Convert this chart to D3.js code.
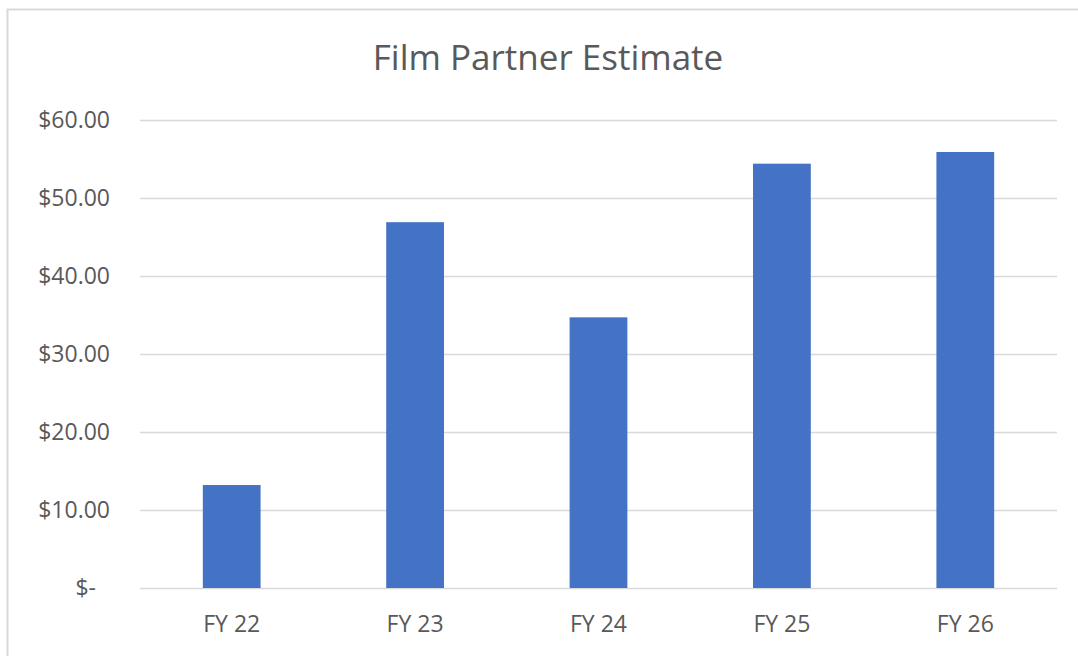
<!DOCTYPE html>
<html>
<head>
<meta charset="utf-8">
<script src="https://cdn.jsdelivr.net/npm/d3@7"></script>
<style>
  body { margin: 0; background: #fff; }
  text { font-family: "Open Sans", "Noto Sans", sans-serif; fill: #595959; }
</style>
</head>
<body>
<div id="chart"></div>
<script>
'use strict';

var categories = ['FY 22', 'FY 23', 'FY 24', 'FY 25', 'FY 26'];
var values = [13.2, 46.9, 34.7, 54.4, 55.9];
var tickValues = [0, 10, 20, 30, 40, 50, 60];

var width = 1078;
var height = 656;
var margin = {top: 120, right: 21, bottom: 68, left: 140};

var svg = d3.select('#chart').append('svg')
    .attr('width', width)
    .attr('height', height);

// outer chart frame (only top and left edges show)
svg.append('rect')
    .attr('x', 7.5).attr('y', 9.5)
    .attr('width', width + 10).attr('height', height + 10)
    .style('fill', 'none')
    .style('stroke', '#d9d9d9')
    .style('stroke-width', 2);

var x = d3.scaleBand()
    .domain(categories)
    .range([margin.left, width - margin.right])
    .paddingInner(0.685)
    .paddingOuter(0.3425);

var y = d3.scaleLinear()
    .domain([0, 60])
    .range([height - margin.bottom, margin.top]);

svg.append('text')
    .attr('x', 548)
    .attr('y', 70)
    .attr('text-anchor', 'middle')
    .style('font-size', '35px')
    .text('Film Partner Estimate');

var yAxis = d3.axisLeft(y)
    .tickValues(tickValues)
    .tickSize(-(width - margin.left - margin.right))
    .tickPadding(30)
    .tickFormat(function(d) { return d === 0 ? '$-' : '$' + d.toFixed(2); });

var gy = svg.append('g')
    .attr('transform', 'translate(' + margin.left + ',0)')
    .call(yAxis);
gy.select('.domain').remove();
gy.selectAll('line').style('stroke', '#d9d9d9').style('stroke-width', 1.5);
gy.selectAll('text').style('font-size', '23px').attr('fill', '#595959');
// "$-" sits a bit left of the other labels in the original
gy.selectAll('text').filter(function(d) { return d === 0; }).attr('x', -44);

svg.selectAll('rect.bar')
    .data(values)
    .enter().append('rect')
    .attr('class', 'bar')
    .attr('x', function(d, i) { return x(categories[i]); })
    .attr('y', function(d) { return y(d); })
    .attr('width', x.bandwidth())
    .attr('height', function(d) { return y(0) - y(d); })
    .style('fill', '#4472c4');

var xAxis = d3.axisBottom(x).tickSize(0).tickPadding(28);
var gx = svg.append('g')
    .attr('transform', 'translate(0,' + y(0) + ')')
    .call(xAxis);
gx.select('.domain').remove();
gx.selectAll('text').style('font-size', '23px').attr('fill', '#595959');
</script>
</body>
</html>
